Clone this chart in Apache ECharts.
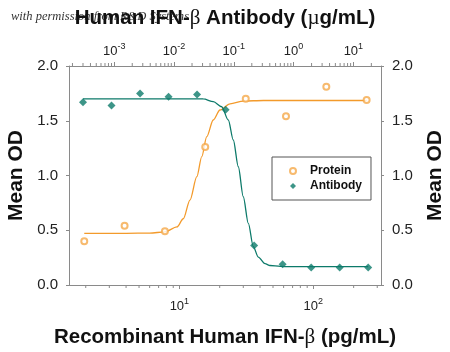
<!DOCTYPE html>
<html>
<head>
<meta charset="utf-8">
<script src="https://cdn.jsdelivr.net/npm/echarts@6/dist/echarts.min.js"></script>
<style>
  html, body { margin: 0; padding: 0; background: #fff; }
  #chart { width: 450px; height: 352px; }
</style>
</head>
<body>
<div id="chart"></div>
<script>
const proteinPg = [1.95, 3.9, 7.8, 15.6, 31.3, 62.5, 125, 250]
const proteinOD = [0.40, 0.54, 0.49, 1.26, 1.70, 1.54, 1.81, 1.69]
const antibodyUg = [0.0003, 0.0009, 0.0027, 0.0081, 0.0243, 0.0729, 0.219, 0.656, 1.97, 5.9, 17.7]
const antibodyOD = [1.67, 1.64, 1.75, 1.72, 1.74, 1.60, 0.36, 0.19, 0.16, 0.16, 0.16]

// fitted curves (traced)
const proteinFitPg = [1.95, 4, 6.0, 7.8, 9.6, 10.7, 12.0, 13.5, 14.7, 16.0, 17.9, 20.1, 23.9, 30.1, 42.4, 80, 250]
const proteinFitOD = [0.472, 0.472, 0.474, 0.485, 0.53, 0.605, 0.776, 0.989, 1.172, 1.354, 1.507, 1.598, 1.655, 1.68, 1.685, 1.685, 1.685]
const antibodyFitUg = [0.0003, 0.004, 0.0309, 0.0454, 0.0627, 0.0809, 0.0981, 0.119, 0.144, 0.175, 0.212, 0.257, 0.333, 0.403, 0.6, 0.87, 17.7]
const antibodyFitOD = [1.70, 1.70, 1.699, 1.674, 1.628, 1.507, 1.324, 1.080, 0.806, 0.563, 0.350, 0.255, 0.195, 0.178, 0.17, 0.167, 0.167]

// log minor tick positions
const minorSteps = [2, 3, 4, 5, 6, 7, 8, 9]
const pgDecades = [1, 10, 100]
const ugDecades = [0.0001, 0.001, 0.01, 0.1, 1, 10]

const orange = '#F39A2B'
const teal = '#0D7A6A'
const axisGray = '#8a8a8a'
const font = 'Liberation Sans, Arial, sans-serif'

const pgMin = 1.5, pgMax = 320
const ugMin = 0.000175, ugMax = 29

const zip = (xs, ys) => xs.map((x, i) => [x, ys[i]])
const minorList = (decades, lo, hi) => {
  const out = []
  decades.forEach(d => minorSteps.forEach(s => {
    const v = d * s
    if (v > lo && v < hi) out.push(v)
  }))
  return out
}

const supLabel = (v) => {
  const e = Math.round(Math.log10(v))
  return '{b|10}{s|' + e + '}'
}
const supRich = {
  b: { fontSize: 13, fontFamily: font, color: '#222', verticalAlign: 'bottom', lineHeight: 16 },
  s: { fontSize: 9, fontFamily: font, color: '#222', verticalAlign: 'top', lineHeight: 16 }
}
const nameRich = {
  g: { fontFamily: 'Liberation Serif, serif', fontWeight: 'normal', fontSize: 21, color: '#111' }
}

const logAxis = (pos, min, max, name, gap, labelMargin) => ({
  type: 'log',
  position: pos,
  min: min,
  max: max,
  logBase: 10,
  name: name,
  nameLocation: 'middle',
  nameGap: gap,
  nameTextStyle: { fontFamily: font, fontWeight: 'bold', fontSize: 20.5, color: '#111', rich: nameRich },
  axisLine: { show: true, onZero: false, lineStyle: { color: axisGray, width: 1 } },
  axisTick: { show: true, inside: false, length: 4, lineStyle: { color: axisGray } },
  axisLabel: { margin: labelMargin, formatter: supLabel, rich: supRich, showMinLabel: false, showMaxLabel: false },
  splitLine: { show: false }
})

const odAxis = (pos, gap) => ({
  type: 'value',
  position: pos,
  min: 0,
  max: 2,
  interval: 0.5,
  name: 'Mean OD',
  nameLocation: 'middle',
  nameGap: gap,
  nameTextStyle: { fontFamily: font, fontWeight: 'bold', fontSize: 21, color: '#111' },
  axisLine: { show: true, lineStyle: { color: axisGray, width: 1 } },
  axisTick: { show: true, length: 3, lineStyle: { color: axisGray } },
  axisLabel: { margin: 11, fontFamily: font, fontSize: 15, color: '#222', formatter: v => v.toFixed(1) },
  splitLine: { show: false }
})

const minorTickSeries = (axisIdx, values, yVal, dir) => ({
  type: 'custom',
  name: 'minor' + axisIdx,
  xAxisIndex: axisIdx,
  yAxisIndex: 0,
  silent: true,
  clip: false,
  data: values.map(v => [v, yVal]),
  renderItem: (params, api) => {
    const p = api.coord([api.value(0), api.value(1)])
    return {
      type: 'line',
      shape: { x1: p[0], y1: p[1], x2: p[0], y2: p[1] + dir * 3 },
      style: { stroke: axisGray, lineWidth: 1 }
    }
  }
})

var chart = echarts.init(document.getElementById('chart'))
var option = {
  animation: false,
  backgroundColor: '#fff',
  textStyle: { fontFamily: font },
  grid: { left: 69, right: 69, top: 66, bottom: 67, containLabel: false, outerBoundsMode: 'none' },
  graphic: [{
    type: 'text',
    left: 11,
    top: 10,
    z: -1,
    style: { text: 'with permission from R&D Systems', font: 'italic 12.5px "Liberation Serif", serif', fill: '#333' }
  }],
  legend: {
    data: [
      { name: 'Protein', itemStyle: { borderWidth: 0.8 } },
      { name: 'Antibody' }
    ],
    orient: 'vertical',
    left: 272,
    top: 157,
    padding: [7, 9, 7, 17],
    itemGap: 1,
    itemWidth: 6,
    itemHeight: 6,
    borderColor: '#555',
    borderWidth: 1,
    backgroundColor: '#fff',
    textStyle: { fontFamily: font, fontWeight: 'bold', fontSize: 12, color: '#111', lineHeight: 14, padding: [0, 0, 0, 9] }
  },
  xAxis: [
    logAxis('bottom', pgMin, pgMax, 'Recombinant Human IFN-{g|β} (pg/mL)', 42, 12),
    logAxis('top', ugMin, ugMax, 'Human IFN-{g|β} Antibody ({g|µ}g/mL)', 37, 8)
  ],
  yAxis: [odAxis('left', 36), odAxis('right', 44)],
  series: [
    {
      name: 'Protein fit',
      type: 'line',
      xAxisIndex: 0,
      data: zip(proteinFitPg, proteinFitOD),
      smooth: 0.3,
      smoothMonotone: 'x',
      showSymbol: false,
      symbol: 'none',
      lineStyle: { color: orange, width: 1.3 },
      z: 2
    },
    {
      name: 'Antibody fit',
      type: 'line',
      xAxisIndex: 1,
      data: zip(antibodyFitUg, antibodyFitOD),
      smooth: 0.3,
      smoothMonotone: 'x',
      showSymbol: false,
      symbol: 'none',
      lineStyle: { color: teal, width: 1.3 },
      z: 2
    },
    {
      name: 'Protein',
      type: 'scatter',
      xAxisIndex: 0,
      data: zip(proteinPg, proteinOD),
      symbol: 'emptyCircle',
      symbolSize: 6,
      itemStyle: { color: '#F5A94A', borderColor: '#F5A94A', borderWidth: 0.8 },
      z: 3
    },
    {
      name: 'Antibody',
      type: 'scatter',
      xAxisIndex: 1,
      data: zip(antibodyUg, antibodyOD),
      symbol: 'diamond',
      symbolSize: 8,
      itemStyle: { color: teal },
      z: 3
    },
    minorTickSeries(0, minorList(pgDecades, pgMin, pgMax), 0, 1),
    minorTickSeries(1, minorList(ugDecades, ugMin, ugMax), 2, -1)
  ]
}
chart.setOption(option)
</script>
</body>
</html>
